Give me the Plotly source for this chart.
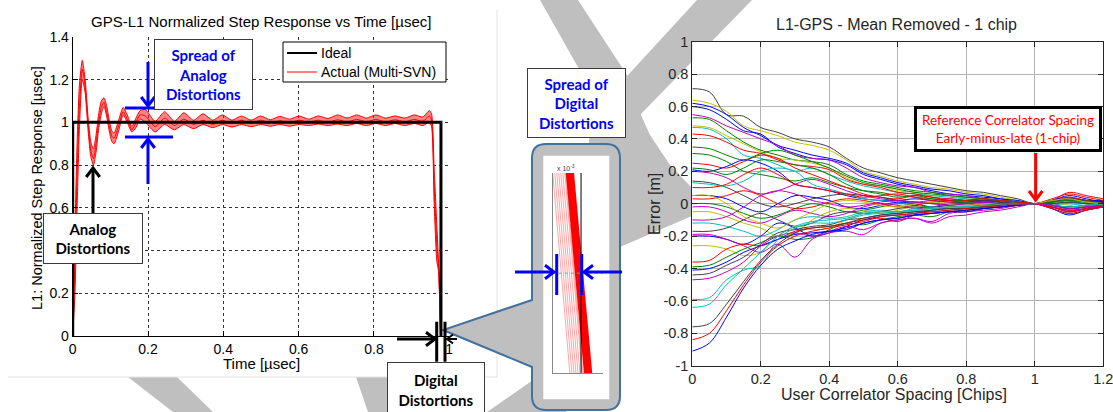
import math
import plotly.graph_objects as go

W, H = 1113, 412
def fx(p): return p / W
def fy(p): return 1 - p / H

# ---------------- Left panel: normalized step response ----------------
step_t = [0, 0.006, 0.012, 0.018, 0.0255, 0.033, 0.041, 0.048, 0.055, 0.062, 0.069, 0.076,
          0.083, 0.09, 0.097, 0.104, 0.11, 0.122, 0.134, 0.146, 0.157, 0.168, 0.179, 0.193,
          0.219, 0.244, 0.27, 0.295, 0.321, 0.346, 0.372, 0.397, 0.423, 0.448, 0.474, 0.499,
          0.525, 0.55, 0.576, 0.601, 0.627, 0.652, 0.678, 0.703, 0.729, 0.754, 0.78, 0.805,
          0.831, 0.856, 0.882, 0.907, 0.93, 0.947, 0.953, 0.96, 0.967, 0.972, 0.977]
actual_upper = [0.0, 0.50, 0.92, 1.18, 1.29, 1.20, 1.02, 0.91, 0.875, 0.94, 1.04, 1.10,
                1.115, 1.08, 1.01, 0.96, 0.95, 1.01, 1.07, 1.03, 0.98, 1.02, 1.055, 1.06,
                1.005, 1.05, 1.005, 1.045, 1.01, 1.04, 1.01, 1.035, 1.01, 1.03, 1.01, 1.03,
                1.012, 1.028, 1.015, 1.03, 1.015, 1.03, 1.018, 1.035, 1.02, 1.035, 1.02, 1.035,
                1.02, 1.03, 1.02, 1.035, 1.025, 1.055, 1.04, 0.78, 0.52, 0.32, 0.0]
actual_lower = [0.0, 0.20, 0.62, 0.98, 1.20, 1.14, 0.96, 0.84, 0.80, 0.86, 0.97, 1.04,
                1.075, 1.03, 0.96, 0.91, 0.90, 0.96, 1.035, 0.995, 0.955, 0.975, 1.015, 1.0,
                0.955, 0.99, 0.965, 0.99, 0.97, 0.99, 0.975, 0.99, 0.978, 0.99, 0.98, 0.99,
                0.982, 0.99, 0.982, 0.99, 0.985, 0.992, 0.985, 0.992, 0.985, 0.995, 0.985, 0.995,
                0.985, 0.995, 0.985, 0.995, 0.985, 1.0, 0.98, 0.62, 0.35, 0.30, 0.0]
actual_mid = [0.0, 0.35, 0.78, 1.08, 1.25, 1.17, 0.99, 0.87, 0.83, 0.90, 1.00, 1.07,
              1.095, 1.05, 0.985, 0.935, 0.925, 0.985, 1.05, 1.01, 0.965, 1.0, 1.035, 1.03,
              0.98, 1.02, 0.985, 1.015, 0.99, 1.01, 0.99, 1.01, 0.995, 1.01, 0.995, 1.01,
              0.997, 1.008, 0.998, 1.01, 1.0, 1.01, 1.0, 1.012, 1.002, 1.014, 1.002, 1.014,
              1.002, 1.012, 1.002, 1.014, 1.005, 1.03, 1.01, 0.70, 0.43, 0.31, 0.0]
ideal_t = [0, 0, 0.978, 0.978]
ideal_y = [0, 1, 1, 0]
left_xticks = [0, 0.2, 0.4, 0.6, 0.8, 1]
left_xlabels = ['0', '0.2', '0.4', '0.6', '0.8', '1']
left_yticks = [0, 0.2, 0.4, 0.6, 0.8, 1, 1.2, 1.4]
left_ylabels = ['0', '0.2', '', '0.6', '0.8', '1', '1.2', '1.4']   # 0.4 is hidden by a callout box
legend_labels = ['Ideal', 'Actual (Multi-SVN)']

# ---------------- Inset (zoom on digital distortion) ----------------
inset_top_x = [0, 2, 4, 6, 8, 10, 12, 13, 14, 15, 16, 17, 18, 19, 20]
inset_bot_x = [17, 19, 21, 23, 25, 27, 29, 30, 32, 33, 34, 35, 36, 37, 38]
inset_dense = [0, 0, 0, 0, 0, 0, 0, 0, 1, 1, 1, 1, 1, 1, 1]
inset_ideal_x = 28
inset_ref_y = 0.5

# ---------------- Right panel: mean-removed error ----------------
spacing = [0, 0.05, 0.1, 0.15, 0.2, 0.25, 0.3, 0.35, 0.4, 0.45, 0.5, 0.55, 0.6,
           0.65, 0.7, 0.75, 0.8, 0.85, 0.9, 0.95, 1.0, 1.05, 1.1, 1.15, 1.2]
svn_01 = [0.71, 0.69, 0.55, 0.54, 0.47, 0.44, 0.40, 0.38, 0.35, 0.28, 0.22, 0.19, 0.16, 0.14, 0.12, 0.10, 0.08, 0.07, 0.05, 0.03, 0.0, 0.02, 0.03, 0.02, 0.02]
svn_02 = [0.64, 0.62, 0.57, 0.48, 0.45, 0.42, 0.38, 0.36, 0.33, 0.27, 0.20, 0.17, 0.14, 0.12, 0.10, 0.09, 0.07, 0.06, 0.04, 0.02, 0.0, 0.01, 0.02, 0.01, 0.01]
svn_03 = [0.62, 0.60, 0.55, 0.47, 0.42, 0.36, 0.33, 0.30, 0.28, 0.25, 0.19, 0.16, 0.13, 0.11, 0.09, 0.08, 0.06, 0.05, 0.03, 0.02, 0.0, 0.02, 0.03, 0.02, 0.02]
svn_04 = [0.60, 0.58, 0.52, 0.45, 0.43, 0.35, 0.31, 0.28, 0.27, 0.24, 0.18, 0.15, 0.12, 0.10, 0.08, 0.06, 0.05, 0.04, 0.03, 0.01, 0.0, 0.01, 0.02, 0.01, 0.01]
svn_05 = [0.55, 0.53, 0.48, 0.44, 0.40, 0.36, 0.30, 0.28, 0.27, 0.22, 0.16, 0.13, 0.11, 0.10, 0.07, 0.06, 0.05, 0.03, 0.02, 0.01, 0.0, -0.01, 0.01, 0.0, 0.01]
svn_06 = [0.53, 0.52, 0.45, 0.38, 0.33, 0.30, 0.27, 0.26, 0.24, 0.18, 0.14, 0.12, 0.10, 0.08, 0.07, 0.05, 0.04, 0.03, 0.02, 0.01, 0.0, 0.02, 0.04, 0.02, 0.01]
svn_07 = [0.48, 0.47, 0.42, 0.37, 0.32, 0.28, 0.27, 0.25, 0.22, 0.16, 0.12, 0.11, 0.08, 0.07, 0.05, 0.05, 0.03, 0.03, 0.02, 0.01, 0.0, 0.0, 0.02, 0.01, 0.0]
svn_08 = [0.47, 0.46, 0.40, 0.30, 0.28, 0.24, 0.20, 0.22, 0.18, 0.14, 0.11, 0.09, 0.07, 0.06, 0.05, 0.04, 0.03, 0.02, 0.02, 0.01, 0.0, -0.01, 0.0, 0.01, 0.0]
svn_09 = [0.43, 0.42, 0.38, 0.33, 0.31, 0.27, 0.24, 0.23, 0.21, 0.15, 0.12, 0.10, 0.07, 0.06, 0.04, 0.03, 0.02, 0.02, 0.01, 0.0, 0.0, 0.03, 0.06, 0.04, 0.02]
svn_10 = [0.31, 0.30, 0.26, 0.20, 0.18, 0.16, 0.14, 0.16, 0.13, 0.10, 0.08, 0.07, 0.05, 0.04, 0.03, 0.02, 0.02, 0.01, 0.01, 0.0, 0.0, -0.01, -0.02, -0.01, 0.0]
svn_11 = [0.25, 0.24, 0.22, 0.26, 0.30, 0.28, 0.22, 0.18, 0.14, 0.10, 0.06, 0.04, 0.03, 0.05, 0.04, 0.02, 0.01, 0.02, 0.02, 0.01, 0.0, 0.02, 0.07, 0.05, 0.03]
svn_12 = [0.21, 0.20, 0.23, 0.27, 0.25, 0.20, 0.12, 0.10, 0.08, 0.05, 0.03, 0.02, 0.02, 0.03, 0.02, 0.01, 0.01, 0.02, 0.01, 0.0, 0.0, -0.01, -0.03, -0.02, 0.0]
svn_13 = [0.20, 0.19, 0.16, 0.10, 0.06, 0.08, 0.12, 0.15, 0.12, 0.08, 0.05, 0.03, 0.02, 0.01, 0.02, 0.03, 0.02, 0.01, 0.02, 0.01, 0.0, 0.01, 0.03, 0.02, 0.01]
svn_14 = [0.14, 0.13, 0.10, 0.05, 0.0, -0.02, 0.0, 0.03, 0.05, 0.06, 0.05, 0.04, 0.02, 0.01, 0.0, 0.0, 0.01, 0.02, 0.01, 0.0, 0.0, -0.02, -0.04, -0.03, -0.01]
svn_15 = [0.13, 0.12, 0.11, 0.14, 0.20, 0.22, 0.20, 0.12, 0.09, 0.06, 0.03, 0.02, 0.01, 0.0, 0.01, 0.02, 0.01, 0.0, 0.0, 0.0, 0.0, 0.01, 0.0, -0.01, 0.0]
svn_16 = [0.22, 0.21, 0.18, 0.22, 0.27, 0.26, 0.24, 0.22, 0.18, 0.12, 0.08, 0.06, 0.04, 0.05, 0.03, 0.02, 0.02, 0.03, 0.02, 0.01, 0.0, 0.0, 0.01, 0.02, 0.01]
svn_17 = [0.05, 0.05, 0.03, -0.02, -0.05, 0.0, 0.05, 0.04, 0.02, -0.02, -0.03, -0.01, 0.01, 0.0, -0.02, -0.01, 0.0, 0.01, 0.0, 0.0, 0.0, -0.02, -0.05, -0.03, -0.02]
svn_18 = [0.03, 0.03, 0.05, 0.08, 0.05, 0.0, -0.03, -0.02, 0.01, 0.03, 0.02, 0.0, -0.02, -0.01, 0.01, 0.02, 0.0, -0.01, 0.0, 0.0, 0.0, 0.02, 0.04, 0.02, 0.01]
svn_19 = [0.0, 0.0, -0.02, -0.06, -0.09, -0.07, -0.03, 0.0, -0.02, -0.05, -0.04, -0.02, 0.0, -0.01, -0.02, 0.0, 0.01, 0.0, -0.01, 0.0, 0.0, -0.03, -0.06, -0.04, -0.02]
svn_20 = [-0.02, -0.02, -0.05, -0.10, -0.12, -0.08, -0.04, -0.06, -0.08, -0.06, -0.02, 0.0, -0.01, -0.03, -0.02, 0.0, 0.0, -0.01, -0.01, 0.0, 0.0, 0.01, 0.03, 0.01, 0.0]
svn_21 = [-0.05, -0.05, -0.08, -0.12, -0.15, -0.20, -0.18, -0.10, -0.05, -0.03, -0.04, -0.06, -0.04, -0.02, -0.03, -0.02, -0.01, -0.02, -0.01, 0.0, 0.0, -0.02, -0.03, -0.01, 0.0]
svn_22 = [-0.12, -0.12, -0.14, -0.17, -0.20, -0.16, -0.10, -0.08, -0.09, -0.08, -0.05, -0.04, -0.05, -0.03, -0.02, -0.03, -0.02, -0.01, -0.01, 0.0, 0.0, 0.02, 0.02, 0.01, 0.0]
svn_23 = [-0.17, -0.17, -0.15, -0.10, -0.06, -0.10, -0.14, -0.12, -0.07, -0.05, -0.06, -0.05, -0.03, -0.02, -0.03, -0.02, -0.02, -0.01, -0.02, 0.0, 0.0, -0.01, -0.02, -0.01, 0.0]
svn_24 = [-0.20, -0.20, -0.22, -0.25, -0.20, -0.12, -0.15, -0.20, -0.18, -0.14, -0.10, -0.08, -0.07, -0.06, -0.04, -0.03, -0.03, -0.02, -0.01, 0.0, 0.0, -0.03, -0.07, -0.04, -0.02]
svn_25 = [-0.26, -0.26, -0.28, -0.32, -0.30, -0.20, -0.14, -0.16, -0.15, -0.10, -0.06, -0.05, -0.06, -0.04, -0.03, -0.02, -0.03, -0.02, -0.01, 0.0, 0.0, 0.01, -0.01, -0.02, 0.0]
svn_26 = [-0.19, -0.19, -0.22, -0.26, -0.30, -0.25, -0.33, -0.22, -0.18, -0.17, -0.19, -0.12, -0.10, -0.09, -0.11, -0.06, -0.05, -0.04, -0.03, -0.01, 0.0, -0.02, -0.04, -0.03, -0.01]
svn_27 = [-0.36, -0.35, -0.28, -0.25, -0.26, -0.22, -0.17, -0.15, -0.14, -0.12, -0.10, -0.09, -0.11, -0.07, -0.06, -0.05, -0.04, -0.03, -0.02, -0.01, 0.0, -0.02, -0.05, -0.03, -0.01]
svn_28 = [-0.39, -0.38, -0.33, -0.28, -0.24, -0.20, -0.22, -0.21, -0.16, -0.12, -0.13, -0.10, -0.08, -0.07, -0.08, -0.05, -0.04, -0.03, -0.02, 0.0, 0.0, 0.01, 0.02, 0.01, 0.0]
svn_29 = [-0.41, -0.40, -0.36, -0.30, -0.26, -0.22, -0.19, -0.18, -0.17, -0.16, -0.12, -0.10, -0.09, -0.07, -0.06, -0.05, -0.05, -0.03, -0.02, -0.01, 0.0, -0.01, -0.03, -0.02, -0.01]
svn_30 = [-0.44, -0.43, -0.38, -0.33, -0.25, -0.18, -0.16, -0.14, -0.13, -0.10, -0.09, -0.07, -0.06, -0.05, -0.05, -0.04, -0.03, -0.02, -0.01, 0.0, 0.0, 0.0, 0.01, 0.0, 0.0]
svn_31 = [-0.47, -0.46, -0.42, -0.36, -0.26, -0.20, -0.18, -0.20, -0.17, -0.14, -0.16, -0.12, -0.10, -0.09, -0.12, -0.08, -0.07, -0.05, -0.04, -0.02, 0.0, -0.02, -0.05, -0.03, -0.01]
svn_32 = [-0.59, -0.58, -0.47, -0.41, -0.38, -0.22, -0.15, -0.12, -0.12, -0.10, -0.07, -0.06, -0.05, -0.04, -0.04, -0.03, -0.02, -0.02, -0.01, 0.0, 0.0, 0.01, 0.02, 0.01, 0.0]
svn_33 = [-0.64, -0.62, -0.50, -0.40, -0.30, -0.20, -0.14, -0.11, -0.10, -0.09, -0.06, -0.05, -0.05, -0.04, -0.03, -0.02, -0.02, -0.01, -0.01, 0.0, 0.0, -0.01, -0.02, -0.01, 0.0]
svn_34 = [-0.76, -0.74, -0.62, -0.48, -0.35, -0.25, -0.18, -0.15, -0.14, -0.12, -0.09, -0.07, -0.06, -0.05, -0.04, -0.03, -0.03, -0.02, -0.01, 0.0, 0.0, 0.01, 0.03, 0.02, 0.01]
svn_35 = [-0.84, -0.80, -0.66, -0.50, -0.36, -0.26, -0.20, -0.17, -0.15, -0.13, -0.11, -0.08, -0.07, -0.06, -0.05, -0.04, -0.03, -0.02, -0.02, -0.01, 0.0, -0.02, -0.04, -0.03, -0.01]
svn_36 = [-0.91, -0.86, -0.70, -0.52, -0.38, -0.28, -0.23, -0.19, -0.17, -0.15, -0.12, -0.10, -0.09, -0.07, -0.06, -0.05, -0.04, -0.03, -0.02, -0.01, 0.0, 0.02, 0.05, 0.03, 0.01]
svn_37 = [0.35, 0.34, 0.30, 0.27, 0.31, 0.33, 0.30, 0.26, 0.22, 0.17, 0.13, 0.11, 0.09, 0.07, 0.06, 0.05, 0.04, 0.03, 0.02, 0.01, 0.0, 0.01, 0.02, 0.01, 0.0]
svn_38 = [0.10, 0.10, 0.12, 0.18, 0.22, 0.18, 0.12, 0.10, 0.08, 0.06, 0.04, 0.05, 0.06, 0.04, 0.02, 0.01, 0.02, 0.03, 0.02, 0.01, 0.0, -0.03, -0.06, -0.04, -0.02]
svn_39 = [0.05, 0.05, 0.0, -0.08, -0.12, -0.15, -0.10, -0.05, 0.0, 0.02, 0.01, -0.01, -0.02, 0.0, 0.01, 0.0, -0.01, 0.0, 0.0, 0.0, 0.0, 0.02, 0.03, 0.01, 0.0]
svn_40 = [-0.10, -0.10, -0.08, -0.02, 0.05, 0.08, 0.06, 0.02, 0.0, -0.02, -0.01, 0.01, 0.02, 0.01, 0.0, -0.01, 0.0, 0.01, 0.0, 0.0, 0.0, -0.01, -0.03, -0.02, -0.01]
right_xticks = [0, 0.2, 0.4, 0.6, 0.8, 1, 1.2]
right_xlabels = ['0', '0.2', '0.4', '0.6', '0.8', '1', '1.2']
right_yticks = [-1, -0.8, -0.6, -0.4, -0.2, 0, 0.2, 0.4, 0.6, 0.8, 1]
right_ylabels = ['-1', '-0.8', '-0.6', '-0.4', '-0.2', '0', '0.2', '0.4', '0.6', '0.8', '1']

svn_curves = [svn_01, svn_02, svn_03, svn_04, svn_05, svn_06, svn_07, svn_08, svn_09, svn_10,
              svn_11, svn_12, svn_13, svn_14, svn_15, svn_16, svn_17, svn_18, svn_19, svn_20,
              svn_21, svn_22, svn_23, svn_24, svn_25, svn_26, svn_27, svn_28, svn_29, svn_30,
              svn_31, svn_32, svn_33, svn_34, svn_35, svn_36, svn_37, svn_38, svn_39, svn_40]
ML = {'b': '#0000ff', 'g': '#008000', 'r': '#ff0000', 'c': '#00bfbf',
      'm': '#bf00bf', 'y': '#bfbf00', 'k': '#404040'}
svn_colors = ['k', 'y', 'b', 'b', 'm', 'g', 'y', 'c', 'r', 'g',
              'r', 'b', 'm', 'k', 'c', 'g', 'b', 'r', 'g', 'm',
              'y', 'c', 'k', 'b', 'y', 'm', 'r', 'g', 'b', 'k',
              'm', 'c', 'c', 'k', 'r', 'b', 'g', 'r', 'y', 'm']

fig = go.Figure()

# left panel traces
redline = dict(color='#ff0000', width=1, shape='spline', smoothing=0.6)
fig.add_trace(go.Scatter(x=step_t, y=actual_lower, mode='lines', line=redline,
                         showlegend=False, hoverinfo='skip', xaxis='x', yaxis='y'))
fig.add_trace(go.Scatter(x=step_t, y=actual_upper, mode='lines', line=redline,
                         fill='tonexty', fillcolor='rgba(255,30,30,0.55)',
                         showlegend=False, hoverinfo='skip', xaxis='x', yaxis='y'))
fig.add_trace(go.Scatter(x=step_t, y=actual_mid, mode='lines', line=redline,
                         name=legend_labels[1], showlegend=False, xaxis='x', yaxis='y'))
fig.add_trace(go.Scatter(x=ideal_t, y=ideal_y, mode='lines',
                         line=dict(color='black', width=3), name=legend_labels[0],
                         showlegend=False, xaxis='x', yaxis='y'))

# inset traces
for tx, bx, d in zip(inset_top_x, inset_bot_x, inset_dense):
    fig.add_trace(go.Scatter(x=[tx, bx], y=[1, 0], mode='lines',
                             line=dict(color='#ff0000' if d else 'rgba(255,0,0,0.35)',
                                       width=2.2 if d else 1),
                             showlegend=False, hoverinfo='skip', xaxis='x3', yaxis='y3'))
fig.add_trace(go.Scatter(x=[0, 50], y=[inset_ref_y, inset_ref_y], mode='lines',
                         line=dict(color='#999999', width=1, dash='dot'),
                         showlegend=False, hoverinfo='skip', xaxis='x3', yaxis='y3'))
fig.add_trace(go.Scatter(x=[inset_ideal_x, inset_ideal_x], y=[0, 1], mode='lines',
                         line=dict(color='black', width=1),
                         showlegend=False, hoverinfo='skip', xaxis='x3', yaxis='y3'))

# right panel traces
for vals, c in zip(svn_curves, svn_colors):
    fig.add_trace(go.Scatter(x=spacing, y=vals, mode='lines',
                             line=dict(color=ML[c], width=1, shape='spline', smoothing=1),
                             showlegend=False, hoverinfo='skip', xaxis='x2', yaxis='y2'))

# ---------------- decorative shapes ----------------
GRAY = '#bfbfbf'
def pth(points, close=True):
    s = 'M ' + ' L '.join(f'{fx(x):.5f},{fy(y):.5f}' for x, y in points)
    return s + (' Z' if close else '')

def P(x, y):
    return f'{fx(x):.5f},{fy(y):.5f}'

shapes = []
watermark = [
    [(540, 0), (578, 0), (640, 95), (605, 115)],
    [(697, 0), (752, 0), (640, 115), (605, 100)],
    [(595, 95), (632, 95), (650, 135), (670, 165), (692, 188), (692, 216), (620, 247),
     (566, 412), (487, 412), (533, 380), (575, 250)],
    [(128, 377), (177, 377), (213, 412), (173, 412)],
    [(356, 377), (388, 377), (388, 412), (368, 412)],
]
for poly in watermark:
    shapes.append(dict(type='path', path=pth(poly), xref='paper', yref='paper',
                       fillcolor=GRAY, line=dict(width=0), layer='below'))
# white panels
shapes.append(dict(type='rect', x0=fx(8), x1=fx(497), y0=fy(377), y1=fy(0), xref='paper',
                   yref='paper', fillcolor='white', line=dict(width=0), layer='below'))
shapes.append(dict(type='line', x0=fx(8), x1=fx(497), y0=fy(377), y1=fy(377), xref='paper',
                   yref='paper', line=dict(color='#e3e3e3', width=1), layer='below'))
shapes.append(dict(type='line', x0=fx(497), x1=fx(497), y0=fy(377), y1=fy(10), xref='paper',
                   yref='paper', line=dict(color='#e3e3e3', width=1), layer='below'))
shapes.append(dict(type='rect', x0=fx(692.3), x1=fx(1103.3), y0=fy(365.7), y1=fy(41.7),
                   xref='paper', yref='paper', fillcolor='white', line=dict(width=0),
                   layer='below'))
# callout bubble
r = 14
L_, R_, T_, B_ = 532, 620, 144, 410
callout = (f'M {P(L_ + r, T_)} L {P(R_ - r, T_)} Q {P(R_, T_)} {P(R_, T_ + r)} '
           f'L {P(R_, B_ - r)} Q {P(R_, B_)} {P(R_ - r, B_)} L {P(L_ + r, B_)} '
           f'Q {P(L_, B_)} {P(L_, B_ - r)} L {P(L_, 367)} L {P(443, 330)} L {P(L_, 300)} '
           f'L {P(L_, T_ + r)} Q {P(L_, T_)} {P(L_ + r, T_)} Z')
shapes.append(dict(type='path', path=callout, xref='paper', yref='paper', fillcolor=GRAY,
                   line=dict(color='#41719c', width=2), layer='below'))
shapes.append(dict(type='rect', x0=fx(543.3), x1=fx(609.3), y0=fy(399.3), y1=fy(155.7),
                   xref='paper', yref='paper', fillcolor='white', line=dict(width=0),
                   layer='below'))

def seg(x0, y0, x1, y1, color, width):
    shapes.append(dict(type='line', x0=fx(x0), x1=fx(x1), y0=fy(y0), y1=fy(y1),
                       xref='paper', yref='paper', line=dict(color=color, width=width),
                       layer='above'))

def arrow(hx, hy, tx, ty, color, width=3, size=9):
    seg(tx, ty, hx, hy, color, width)
    dx, dy = hx - tx, hy - ty
    n = math.hypot(dx, dy)
    ux, uy = dx / n, dy / n
    bx, by = hx - ux * size, hy - uy * size
    px, py = -uy * size * 0.75, ux * size * 0.75
    shapes.append(dict(type='path', path=pth([(bx + px, by + py), (hx, hy), (bx - px, by - py)],
                                             close=False),
                       xref='paper', yref='paper', fillcolor='rgba(0,0,0,0)',
                       line=dict(color=color, width=width), layer='above'))

BLUE = '#0000ff'
seg(125, 108, 155, 108, BLUE, 3)
seg(125, 137, 173, 137, BLUE, 3)
seg(436.7, 321.7, 436.7, 361.7, 'black', 3)
seg(445, 321.7, 445, 361.7, 'black', 3)
seg(556.7, 254, 556.7, 295, BLUE, 3)
seg(581.7, 254, 581.7, 295, BLUE, 3)

arrow(148, 106, 148, 62, BLUE)
arrow(148, 139, 148, 184, BLUE)
arrow(93, 168, 93, 213, 'black')
arrow(435, 339, 397, 339, 'black')
arrow(447, 339, 457, 339, 'black', 2, 6)
arrow(554, 272, 515, 272, BLUE)
arrow(584, 272, 622, 272, BLUE)
arrow(1035.7, 200, 1035.7, 153, '#ff0000')

# legend (box + samples)
shapes.append(dict(type='rect', x0=fx(283), x1=fx(446), y0=fy(82), y1=fy(42), xref='paper',
                   yref='paper', fillcolor='white', line=dict(color='black', width=1),
                   layer='above'))
seg(287, 53, 317, 53, 'black', 2)
seg(287, 72, 317, 72, '#ff0000', 1)

# ---------------- annotations ----------------
ann = []
def text(x, y, s, size, color='black', family='Liberation Sans', angle=0, xanchor='center'):
    ann.append(dict(x=fx(x), y=fy(y), xref='paper', yref='paper', text=s, showarrow=False,
                    xanchor=xanchor, yanchor='middle', textangle=angle,
                    font=dict(family=family, size=size, color=color)))

def box(cx, cy, w, h, s, color, size, bw=1, bold=True, bc='#3a3a3a'):
    ann.append(dict(x=fx(cx), y=fy(cy), xref='paper', yref='paper',
                    text=f'<b>{s}</b>' if bold else s, showarrow=False,
                    xanchor='center', yanchor='middle', width=w, height=h, align='center',
                    valign='middle', bgcolor='white', bordercolor=bc, borderwidth=bw,
                    borderpad=0, font=dict(family='Lato', size=size, color=color)))

text(261, 22, 'GPS-L1 Normalized Step Response vs Time [\u00b5sec]', 15)
text(261, 363, 'Time [\u00b5sec]', 15)
text(37, 188, 'L1: Normalized Step Response [\u00b5sec]', 14.5, angle=-90)
text(897, 25, 'L1-GPS - Mean Removed - 1 chip', 16, color='#262626')
text(894, 394, 'User Correlator Spacing [Chips]', 16, color='#262626')
text(654, 204, 'Error [m]', 16, color='#262626', angle=-90)
text(555, 168, 'x 10<sup>-3</sup>', 7, color='#444444', xanchor='left')
text(319, 53, legend_labels[0], 14, xanchor='left')
text(319, 72, legend_labels[1], 14, xanchor='left')

box(203.5, 74.5, 97, 69, 'Spread of<br>Analog<br>Distortions', BLUE, 15)
box(93, 238.5, 98, 49, 'Analog<br>Distortions', 'black', 15)
box(436, 390, 96, 54, 'Digital<br>Distortions', 'black', 15)
box(576.2, 103.3, 97, 68, 'Spread of<br>Digital<br>Distortions', BLUE, 15)
box(1007.5, 129.2, 182, 40, 'Reference Correlator Spacing<br>Early-minus-late (1-chip)',
    '#ff0000', 13.5, bw=3, bold=False, bc='black')

tickfont_l = dict(family='Liberation Sans', size=14, color='black')
tickfont_r = dict(family='Liberation Sans', size=14.5, color='#262626')

fig.update_layout(
    width=W, height=H, autosize=False,
    margin=dict(l=0, r=0, t=0, b=0, autoexpand=False),
    paper_bgcolor='white', plot_bgcolor='rgba(0,0,0,0)',
    showlegend=False,
    xaxis=dict(domain=[fx(72.7), fx(450)], range=[0, 1.002], anchor='y', automargin=False,
               tickvals=left_xticks, ticktext=left_xlabels, ticks='inside', ticklen=5,
               tickcolor='black', showline=True, linecolor='black', linewidth=1,
               showgrid=True, gridcolor='#333333', griddash='dot', gridwidth=1,
               zeroline=False, tickfont=tickfont_l, fixedrange=True),
    yaxis=dict(domain=[fy(336), fy(36.7)], range=[0, 1.401], anchor='x', automargin=False,
               tickvals=left_yticks, ticktext=left_ylabels, ticks='inside', ticklen=5,
               tickcolor='black', showline=True, linecolor='black', linewidth=1,
               showgrid=True, gridcolor='#333333', griddash='dot', gridwidth=1,
               zeroline=False, tickfont=tickfont_l, fixedrange=True),
    xaxis2=dict(domain=[fx(692.3), fx(1103.3)], range=[0, 1.2], anchor='y2', automargin=False,
                tickvals=right_xticks, ticktext=right_xlabels, ticks='inside', ticklen=5,
                tickcolor='#262626', showline=True, mirror='ticks', linecolor='#262626',
                linewidth=1, showgrid=True, gridcolor='#b4b4b4', gridwidth=1,
                zeroline=False, tickfont=tickfont_r, fixedrange=True,
                ticklabeloverflow='allow'),
    yaxis2=dict(domain=[fy(365.7), fy(41.7)], range=[-1, 1], anchor='x2', automargin=False,
                tickvals=right_yticks, ticktext=right_ylabels, ticks='inside', ticklen=5,
                tickcolor='#262626', showline=True, mirror='ticks', linecolor='#262626',
                linewidth=1, showgrid=True, gridcolor='#b4b4b4', gridwidth=1,
                zeroline=False, tickfont=tickfont_r, fixedrange=True),
    xaxis3=dict(domain=[fx(552.7), fx(603.3)], range=[0, 50], anchor='y3', automargin=False,
                showline=True, linecolor='#888888', linewidth=1, showgrid=False,
                zeroline=False, showticklabels=False, ticks='', fixedrange=True),
    yaxis3=dict(domain=[fy(373.3), fy(173)], range=[0, 1], anchor='x3', automargin=False,
                showline=True, linecolor='#888888', linewidth=1, showgrid=False,
                zeroline=False, showticklabels=False, ticks='', fixedrange=True),
    shapes=shapes,
    annotations=ann,
)

fig.write_html('out.html', config={'displayModeBar': False, 'staticPlot': True},
               post_script="document.body.style.margin='0px';document.body.style.overflow='hidden';")
